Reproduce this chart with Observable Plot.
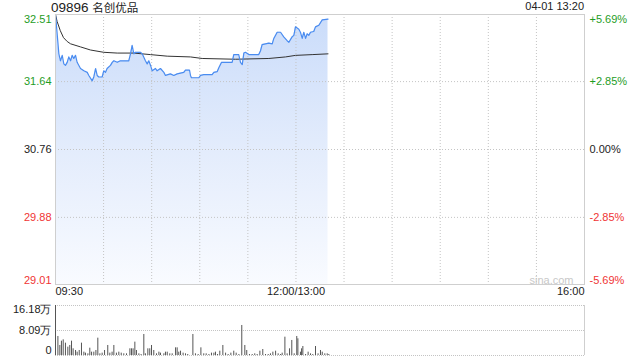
<!DOCTYPE html>
<html><head><meta charset="utf-8">
<script src="https://cdn.jsdelivr.net/npm/d3@7"></script>
<script src="https://cdn.jsdelivr.net/npm/@observablehq/plot@0.6"></script>
<style>
body{margin:0;background:#fff;font-family:"Liberation Sans",Arial,sans-serif;}
#wrap{position:relative;width:640px;height:360px;overflow:hidden;}
#title{position:absolute;left:51px;top:-1px;font-size:13.5px;color:#222;white-space:nowrap;}
#title span{font-family:"Noto Sans CJK SC",sans-serif;font-size:11.5px;}
#date{position:absolute;right:56px;top:0px;font-size:11px;color:#222;}
#main{position:absolute;left:0;top:0;}
#vol{position:absolute;left:0;top:300px;}
</style></head><body>
<div id="wrap"><div id="main"></div><div id="vol"></div>
<div id="title">09896 <span>名创优品</span></div><div id="date">04-01 13:20</div></div>
<script>
// minutes since 09:30 (continuous trading minutes, 12:00/13:00 = 150, 16:00 = 330)
const priceMin = [0,2.1,3.1,4.2,5.2,6.2,7.3,8.3,9.4,10.4,11.4,12.5,13.5,15.6,17.7,19.8,20.8,22.9,23.9,25,26,27,29.1,30.1,31.2,32.2,34.3,35.4,36.4,38.5,40.5,45.7,46.8,47.8,48.9,49.9,53,54.1,56.1,57.2,58.2,59.3,60.3,62.4,63.4,65.5,67.6,68.6,71.7,73.8,75.9,80,81.1,83.6,84.2,84.8,89.4,90.5,92.5,97.7,98.8,100.9,101.9,103.6,110.2,111.2,114.3,115.4,116.5,117.5,118.5,120.6,126.8,127.9,128.9,131,133.1,135.2,136.2,138.3,140.4,142.4,144.5,145.6,147.6,148.7,149.7,151.8,152.8,153.9,154.9,156,157,158,159.1,161.1,162.2,164.3,166.4,170];
const priceVal = [32.51,32.00,31.91,31.98,31.87,31.85,31.89,31.96,31.91,31.98,31.94,31.98,31.89,31.81,31.78,31.76,31.72,31.65,31.70,31.81,31.72,31.70,31.70,31.78,31.76,31.81,31.85,31.89,31.91,31.89,31.91,31.91,32.00,32.11,32.00,32.02,32.02,32.00,31.91,31.87,31.91,31.85,31.78,31.81,31.78,31.81,31.76,31.72,31.74,31.72,31.74,31.76,31.79,31.79,31.72,31.69,31.69,31.72,31.73,31.73,31.76,31.77,31.82,31.89,31.89,31.99,31.99,31.89,31.86,32.01,32.02,31.99,31.99,32.04,32.12,32.13,32.14,32.13,32.20,32.28,32.28,32.22,32.17,32.15,32.22,32.24,32.35,32.32,32.28,32.20,32.28,32.20,32.26,32.24,32.28,32.29,32.35,32.37,32.44,32.45];
const avgMin = [0,1,3,5,7.3,9.4,15.6,21.8,30.1,38.5,48.8,59.3,69.7,84.2,91.5,112.3,133.1,143.5,149.7,160.1,170];
const avgVal = [32.51,32.42,32.30,32.21,32.16,32.13,32.09,32.05,32.02,32.01,32.01,31.99,31.97,31.96,31.94,31.93,31.94,31.96,31.98,31.99,32.00];
// volume, 万股
const volMin = [0,1.5,2.7,3.7,4.8,6.2,7.7,8.9,10,11,12.5,13.5,14.8,16.2,17.7,18.7,20.2,21.4,22.5,23.9,25.2,26.4,27.7,29.1,30.6,32.6,33.9,35.3,36.4,38,39.5,41,42.6,44.3,46.4,47.4,48.4,49.5,50.5,52,53.4,55.1,56.1,57.6,58.8,59.9,61.3,63,64.5,65.5,67.6,68.6,69.7,71.3,72.8,74.9,75.9,76.9,78,79.6,81.1,82.5,85.7,87.3,89,90.7,92.5,94,95.7,97.3,98.8,99.8,101.1,102.5,104.4,106.1,107.7,109.4,111.2,112.7,114.4,116.2,118.1,119.3,121,122.7,124.3,125.8,127.5,129.3,131,132.7,134.1,135.6,137.3,138.9,140.4,141.4,143.1,144.5,146,147.4,148.9,150.5,151.2,152.8,153.5,154.3,156,157.6,159.1,160.5,162.2,163.8,165.3,166.4,168,169.5,170.5];
const volVal = [16.18,6.15,3.24,4.64,5.07,3.99,2.70,3.24,4.64,2.16,1.62,1.08,1.62,3.99,1.08,0.76,0.54,2.37,1.08,1.08,1.62,5.61,0.54,0.76,1.62,3.24,0.76,1.08,3.24,0.76,1.08,0.76,0.54,0.54,2.16,2.16,2.16,4.32,1.62,0.54,0.32,6.80,0.54,2.16,2.16,3.24,1.62,0.54,1.08,0.76,0.54,1.08,1.08,0.54,0.54,2.48,2.48,1.08,1.40,0.76,0.54,0.32,6.80,0.54,0.32,2.48,0.54,0.54,0.32,0.76,0.76,1.08,0.32,1.40,3.24,0.76,0.32,0.76,1.40,0.76,0.32,9.71,3.24,1.62,0.32,0.32,0.54,0.32,1.40,1.94,0.32,0.32,0.54,1.08,1.40,0.54,0.32,0.76,5.93,0.54,2.16,4.86,0.54,6.15,5.40,1.08,2.16,2.91,0.32,1.08,0.54,0.32,2.91,0.54,1.62,1.08,0.54,0.54,0.32];
const priceTicks = [32.51, 31.64, 30.76, 29.88, 29.01];
const priceLabels = ["32.51","31.64","30.76","29.88","29.01"];
const pctLabels = ["+5.69%","+2.85%","0.00%","-2.85%","-5.69%"];
const tickColors = ["#1f9d1f","#1f9d1f","#222","#f03434","#f03434"];
const timeTicks = [0,150,330];
const timeLabels = ["09:30","12:00/13:00","16:00"];
const gridMin = [30,60,90,120,150,180,210,240,270,300];
const volTicks = [16.18, 8.09, 0];
const volLabels = ["16.18万","8.09万","0"];

const price = priceMin.map((m,i)=>({m, p: priceVal[i]}));
const avg = avgMin.map((m,i)=>({m, p: avgVal[i]}));
const vol = volMin.map((m,i)=>({m, v: volVal[i]}));
const ticks = priceTicks.map((v,i)=>({v, lab: priceLabels[i], pct: pctLabels[i], col: tickColors[i], i}));
const times = timeTicks.map((m,i)=>({m, lab: timeLabels[i]}));
const vt = volTicks.map((v,i)=>({v, lab: volLabels[i], i}));
const ff = "Liberation Sans, Arial, sans-serif";
const dot = {stroke:"#c4c4c4", strokeDasharray:"1,2", strokeWidth:1};

const main = Plot.plot({
  width: 640, height: 300,
  marginLeft: 55, marginRight: 56, marginTop: 14, marginBottom: 16,
  style: {fontFamily: ff, fontSize: "11px", background: "transparent", overflow: "visible"},
  x: {domain: [0, 330], axis: null},
  y: {domain: [29.01, 32.51], axis: null},
  color: {type: "identity"},
  marks: [
    Plot.areaY(price, {x: "m", y1: 29.01, y2: "p", fill: "url(#areaGrad)", curve: "linear"}),
    Plot.ruleX(gridMin, dot),
    Plot.ruleY([31.64, 30.76, 29.88], dot),
    Plot.line(avg, {x: "m", y: "p", stroke: "#333", strokeWidth: 1}),
    Plot.line(price, {x: "m", y: "p", stroke: "#4a8cf0", strokeWidth: 1.2}),
    Plot.frame({stroke: "#cfcfcf"}),
    Plot.text(ticks.filter(d=>d.i===0), {y: "v", text: "lab", fill: "col", frameAnchor: "left", textAnchor: "end", dx: -4, lineAnchor: "top", dy: 1}),
    Plot.text(ticks.filter(d=>d.i>0 && d.i<4), {y: "v", text: "lab", fill: "col", frameAnchor: "left", textAnchor: "end", dx: -4}),
    Plot.text(ticks.filter(d=>d.i===4), {y: "v", text: "lab", fill: "col", frameAnchor: "left", textAnchor: "end", dx: -4, lineAnchor: "bottom", dy: -1}),
    Plot.text(ticks.filter(d=>d.i===0), {y: "v", text: "pct", fill: "col", frameAnchor: "right", textAnchor: "start", dx: 5, lineAnchor: "top", dy: 1}),
    Plot.text(ticks.filter(d=>d.i>0 && d.i<4), {y: "v", text: "pct", fill: "col", frameAnchor: "right", textAnchor: "start", dx: 5}),
    Plot.text(ticks.filter(d=>d.i===4), {y: "v", text: "pct", fill: "col", frameAnchor: "right", textAnchor: "start", dx: 5, lineAnchor: "bottom", dy: -1}),
    Plot.text(times.slice(0,1), {x: "m", text: "lab", frameAnchor: "bottom", textAnchor: "start", lineAnchor: "top", dy: 3, fill: "#222"}),
    Plot.text(times.slice(1,2), {x: "m", text: "lab", frameAnchor: "bottom", textAnchor: "middle", lineAnchor: "top", dy: 3, fill: "#222"}),
    Plot.text(times.slice(2,3), {x: "m", text: "lab", frameAnchor: "bottom", textAnchor: "end", lineAnchor: "top", dy: 3, fill: "#222"}),
    Plot.text(["sina.com"], {frameAnchor: "bottom-right", textAnchor: "end", lineAnchor: "bottom", dx: -11, dy: -1, fill: "#c8c8c8", fontSize: 11})
  ]
});
const ns = "http://www.w3.org/2000/svg";
const defs = document.createElementNS(ns, "defs");
const lg = document.createElementNS(ns, "linearGradient");
lg.setAttribute("id", "areaGrad"); lg.setAttribute("x1","0"); lg.setAttribute("y1","0"); lg.setAttribute("x2","0"); lg.setAttribute("y2","1");
[["0","#cadcfa"],["0.5","#e3ecfc"],["1","#f9fbff"]].forEach(([o,c])=>{const s=document.createElementNS(ns,"stop");s.setAttribute("offset",o);s.setAttribute("stop-color",c);lg.appendChild(s);});
defs.appendChild(lg);
main.insertBefore(defs, main.firstChild);
document.getElementById("main").appendChild(main);

const volChart = Plot.plot({
  width: 640, height: 60,
  marginLeft: 55, marginRight: 56, marginTop: 5, marginBottom: 5,
  style: {fontFamily: ff, fontSize: "11px", background: "transparent", overflow: "visible"},
  x: {domain: [0, 330], axis: null},
  y: {domain: [0, 16.18], axis: null},
  marks: [
    Plot.ruleY([0, 8.09, 16.18], {stroke:"#c4c4c4", strokeDasharray:"1,1", strokeWidth:1}),
    Plot.ruleX([330], {stroke: "#cfcfcf"}),
    Plot.ruleX(vol, {x: "m", y1: 0, y2: "v", stroke: "#555", strokeWidth: 1}),
    Plot.text(vt.filter(d=>d.i===0), {y: "v", text: "lab", frameAnchor: "left", textAnchor: "end", dx: -4, lineAnchor: "top", dy: 0, fill: "#222"}),
    Plot.text(vt.filter(d=>d.i===1), {y: "v", text: "lab", frameAnchor: "left", textAnchor: "end", dx: -4, fill: "#222"}),
    Plot.text(vt.filter(d=>d.i===2), {y: "v", text: "lab", frameAnchor: "left", textAnchor: "end", dx: -4, lineAnchor: "bottom", dy: -2, fill: "#222"})
  ]
});
document.getElementById("vol").appendChild(volChart);
</script>
</body></html>
